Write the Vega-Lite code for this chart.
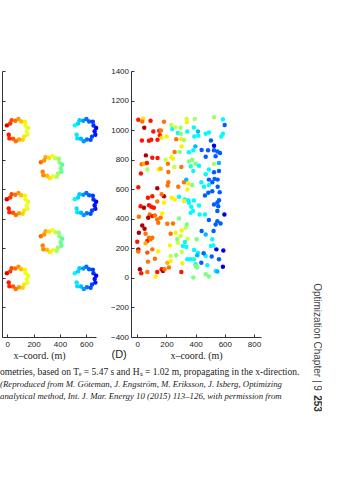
{
"$schema": "https://vega.github.io/schema/vega-lite/v6.json",
"padding": {"left": 0, "top": 67, "right": 0, "bottom": 0},
"background": "white",
"datasets": {
"c": [
{"x":-3,"y":1032,"c":0.90},{"x":22,"y":1044,"c":0.85},{"x":33,"y":1066,"c":0.83},{"x":61,"y":1063,"c":0.78},{"x":85,"y":1075,"c":0.73},{"x":106,"y":1059,"c":0.69},{"x":134,"y":1056,"c":0.64},{"x":139,"y":1031,"c":0.63},{"x":159,"y":1015,"c":0.59},{"x":148,"y":992,"c":0.61},{"x":153,"y":968,"c":0.60},{"x":128,"y":956,"c":0.65},{"x":117,"y":934,"c":0.67},{"x":89,"y":937,"c":0.72},{"x":65,"y":925,"c":0.77},{"x":44,"y":941,"c":0.81},{"x":16,"y":944,"c":0.86},{"x":11,"y":969,"c":0.87},
{"x":-3,"y":532,"c":0.90},{"x":22,"y":544,"c":0.85},{"x":33,"y":566,"c":0.83},{"x":61,"y":563,"c":0.78},{"x":85,"y":575,"c":0.73},{"x":106,"y":559,"c":0.69},{"x":134,"y":556,"c":0.64},{"x":139,"y":531,"c":0.63},{"x":159,"y":515,"c":0.59},{"x":148,"y":492,"c":0.61},{"x":153,"y":468,"c":0.60},{"x":128,"y":456,"c":0.65},{"x":117,"y":434,"c":0.67},{"x":89,"y":437,"c":0.72},{"x":65,"y":425,"c":0.77},{"x":44,"y":441,"c":0.81},{"x":16,"y":444,"c":0.86},{"x":11,"y":469,"c":0.87},
{"x":-3,"y":32,"c":0.90},{"x":22,"y":44,"c":0.85},{"x":33,"y":66,"c":0.83},{"x":61,"y":63,"c":0.78},{"x":85,"y":75,"c":0.73},{"x":106,"y":59,"c":0.69},{"x":134,"y":56,"c":0.64},{"x":139,"y":31,"c":0.63},{"x":159,"y":15,"c":0.59},{"x":148,"y":-8,"c":0.61},{"x":153,"y":-32,"c":0.60},{"x":128,"y":-44,"c":0.65},{"x":117,"y":-66,"c":0.67},{"x":89,"y":-63,"c":0.72},{"x":65,"y":-75,"c":0.77},{"x":44,"y":-59,"c":0.81},{"x":16,"y":-56,"c":0.86},{"x":11,"y":-31,"c":0.87},
{"x":255,"y":782,"c":0.78},{"x":280,"y":794,"c":0.73},{"x":291,"y":816,"c":0.71},{"x":319,"y":813,"c":0.66},{"x":343,"y":825,"c":0.61},{"x":364,"y":809,"c":0.57},{"x":392,"y":806,"c":0.52},{"x":397,"y":781,"c":0.51},{"x":417,"y":765,"c":0.47},{"x":406,"y":742,"c":0.49},{"x":411,"y":718,"c":0.48},{"x":386,"y":706,"c":0.53},{"x":375,"y":684,"c":0.55},{"x":347,"y":687,"c":0.60},{"x":323,"y":675,"c":0.65},{"x":302,"y":691,"c":0.69},{"x":274,"y":694,"c":0.74},{"x":269,"y":719,"c":0.75},
{"x":255,"y":282,"c":0.78},{"x":280,"y":294,"c":0.73},{"x":291,"y":316,"c":0.71},{"x":319,"y":313,"c":0.66},{"x":343,"y":325,"c":0.61},{"x":364,"y":309,"c":0.57},{"x":392,"y":306,"c":0.52},{"x":397,"y":281,"c":0.51},{"x":417,"y":265,"c":0.47},{"x":406,"y":242,"c":0.49},{"x":411,"y":218,"c":0.48},{"x":386,"y":206,"c":0.53},{"x":375,"y":184,"c":0.55},{"x":347,"y":187,"c":0.60},{"x":323,"y":175,"c":0.65},{"x":302,"y":191,"c":0.69},{"x":274,"y":194,"c":0.74},{"x":269,"y":219,"c":0.75},
{"x":513,"y":1032,"c":0.37},{"x":538,"y":1044,"c":0.33},{"x":549,"y":1066,"c":0.32},{"x":577,"y":1063,"c":0.27},{"x":601,"y":1075,"c":0.23},{"x":622,"y":1059,"c":0.20},{"x":650,"y":1056,"c":0.16},{"x":655,"y":1031,"c":0.15},{"x":675,"y":1015,"c":0.12},{"x":664,"y":992,"c":0.13},{"x":669,"y":968,"c":0.13},{"x":644,"y":956,"c":0.17},{"x":633,"y":934,"c":0.18},{"x":605,"y":937,"c":0.23},{"x":581,"y":925,"c":0.27},{"x":560,"y":941,"c":0.30},{"x":532,"y":944,"c":0.34},{"x":527,"y":969,"c":0.35},
{"x":513,"y":532,"c":0.37},{"x":538,"y":544,"c":0.33},{"x":549,"y":566,"c":0.32},{"x":577,"y":563,"c":0.27},{"x":601,"y":575,"c":0.23},{"x":622,"y":559,"c":0.20},{"x":650,"y":556,"c":0.16},{"x":655,"y":531,"c":0.15},{"x":675,"y":515,"c":0.12},{"x":664,"y":492,"c":0.13},{"x":669,"y":468,"c":0.13},{"x":644,"y":456,"c":0.17},{"x":633,"y":434,"c":0.18},{"x":605,"y":437,"c":0.23},{"x":581,"y":425,"c":0.27},{"x":560,"y":441,"c":0.30},{"x":532,"y":444,"c":0.34},{"x":527,"y":469,"c":0.35},
{"x":513,"y":32,"c":0.37},{"x":538,"y":44,"c":0.33},{"x":549,"y":66,"c":0.32},{"x":577,"y":63,"c":0.27},{"x":601,"y":75,"c":0.23},{"x":622,"y":59,"c":0.20},{"x":650,"y":56,"c":0.16},{"x":655,"y":31,"c":0.15},{"x":675,"y":15,"c":0.12},{"x":664,"y":-8,"c":0.13},{"x":669,"y":-32,"c":0.13},{"x":644,"y":-44,"c":0.17},{"x":633,"y":-66,"c":0.18},{"x":605,"y":-63,"c":0.23},{"x":581,"y":-75,"c":0.27},{"x":560,"y":-59,"c":0.30},{"x":532,"y":-56,"c":0.34},{"x":527,"y":-31,"c":0.35}
],
"d": [
{"x":7,"y":1070,"c":0.87},{"x":41,"y":1079,"c":0.64},{"x":34,"y":1058,"c":0.77},{"x":91,"y":1063,"c":0.87},{"x":183,"y":1056,"c":0.77},{"x":48,"y":1016,"c":0.95},{"x":110,"y":991,"c":0.87},{"x":151,"y":996,"c":0.87},{"x":162,"y":998,"c":0.77},{"x":32,"y":930,"c":0.87},
{"x":80,"y":928,"c":0.87},{"x":96,"y":935,"c":0.87},{"x":139,"y":935,"c":0.87},{"x":155,"y":966,"c":0.87},{"x":167,"y":948,"c":0.64},{"x":201,"y":957,"c":0.64},{"x":233,"y":1034,"c":0.57},{"x":240,"y":1007,"c":0.37},{"x":261,"y":1020,"c":0.57},{"x":279,"y":980,"c":0.37},
{"x":297,"y":1016,"c":0.54},{"x":267,"y":939,"c":0.77},{"x":302,"y":939,"c":0.64},{"x":322,"y":933,"c":0.54},{"x":299,"y":976,"c":0.50},{"x":338,"y":1076,"c":0.57},{"x":340,"y":1054,"c":0.64},{"x":395,"y":1076,"c":0.54},{"x":343,"y":991,"c":0.37},{"x":388,"y":1018,"c":0.37},
{"x":391,"y":957,"c":0.37},{"x":418,"y":962,"c":0.37},{"x":416,"y":991,"c":0.30},{"x":469,"y":975,"c":0.37},{"x":491,"y":984,"c":0.37},{"x":526,"y":1087,"c":0.54},{"x":587,"y":1074,"c":0.37},{"x":599,"y":1034,"c":0.20},{"x":587,"y":975,"c":0.37},{"x":576,"y":957,"c":0.37},
{"x":505,"y":930,"c":0.20},{"x":59,"y":829,"c":0.95},{"x":103,"y":813,"c":0.87},{"x":139,"y":811,"c":0.87},{"x":30,"y":769,"c":0.77},{"x":46,"y":773,"c":0.70},{"x":66,"y":778,"c":0.87},{"x":25,"y":706,"c":0.87},{"x":69,"y":733,"c":0.54},{"x":146,"y":733,"c":0.64},
{"x":160,"y":739,"c":0.70},{"x":210,"y":773,"c":0.77},{"x":194,"y":800,"c":0.57},{"x":235,"y":816,"c":0.64},{"x":245,"y":807,"c":0.64},{"x":256,"y":852,"c":0.77},{"x":290,"y":852,"c":0.50},{"x":254,"y":751,"c":0.57},{"x":302,"y":751,"c":0.77},{"x":213,"y":717,"c":0.77},
{"x":304,"y":890,"c":0.64},{"x":354,"y":850,"c":0.37},{"x":384,"y":863,"c":0.37},{"x":398,"y":890,"c":0.30},{"x":441,"y":865,"c":0.20},{"x":485,"y":863,"c":0.20},{"x":526,"y":863,"c":0.20},{"x":526,"y":894,"c":0.10},{"x":549,"y":856,"c":0.20},{"x":567,"y":845,"c":0.20},
{"x":537,"y":823,"c":0.20},{"x":469,"y":820,"c":0.20},{"x":354,"y":787,"c":0.50},{"x":377,"y":800,"c":0.50},{"x":400,"y":773,"c":0.50},{"x":423,"y":759,"c":0.37},{"x":366,"y":755,"c":0.44},{"x":384,"y":724,"c":0.37},{"x":491,"y":733,"c":0.37},{"x":526,"y":771,"c":0.54},
{"x":560,"y":777,"c":0.30},{"x":526,"y":715,"c":0.20},{"x":560,"y":724,"c":0.20},{"x":469,"y":701,"c":0.37},{"x":7,"y":614,"c":0.87},{"x":137,"y":607,"c":0.95},{"x":213,"y":647,"c":0.77},{"x":208,"y":625,"c":0.77},{"x":281,"y":616,"c":0.77},{"x":320,"y":647,"c":0.77},
{"x":336,"y":665,"c":0.30},{"x":350,"y":638,"c":0.64},{"x":377,"y":629,"c":0.50},{"x":343,"y":598,"c":0.64},{"x":491,"y":665,"c":0.20},{"x":530,"y":670,"c":0.20},{"x":551,"y":665,"c":0.20},{"x":514,"y":647,"c":0.20},{"x":551,"y":616,"c":0.20},{"x":491,"y":629,"c":0.37},
{"x":457,"y":616,"c":0.37},{"x":439,"y":647,"c":0.37},{"x":514,"y":587,"c":0.20},{"x":565,"y":580,"c":0.20},{"x":73,"y":542,"c":0.87},{"x":103,"y":553,"c":0.87},{"x":183,"y":553,"c":0.95},{"x":167,"y":566,"c":0.77},{"x":137,"y":517,"c":0.77},{"x":183,"y":508,"c":0.64},
{"x":235,"y":542,"c":0.64},{"x":258,"y":531,"c":0.64},{"x":286,"y":549,"c":0.37},{"x":325,"y":531,"c":0.37},{"x":354,"y":508,"c":0.37},{"x":388,"y":524,"c":0.37},{"x":423,"y":490,"c":0.37},{"x":464,"y":558,"c":0.20},{"x":487,"y":576,"c":0.20},{"x":549,"y":510,"c":0.20},
{"x":560,"y":526,"c":0.20},{"x":23,"y":485,"c":0.87},{"x":46,"y":474,"c":0.95},{"x":80,"y":492,"c":0.87},{"x":96,"y":481,"c":0.87},{"x":114,"y":474,"c":0.87},{"x":85,"y":429,"c":0.77},{"x":103,"y":418,"c":0.87},{"x":75,"y":407,"c":0.95},{"x":121,"y":422,"c":0.77},
{"x":137,"y":395,"c":0.77},{"x":144,"y":373,"c":0.77},{"x":160,"y":407,"c":0.77},{"x":171,"y":436,"c":0.64},{"x":11,"y":413,"c":0.77},{"x":34,"y":355,"c":0.95},{"x":50,"y":333,"c":0.95},{"x":11,"y":306,"c":0.95},{"x":57,"y":299,"c":0.77},{"x":80,"y":272,"c":0.77},
{"x":103,"y":272,"c":0.77},{"x":0,"y":245,"c":0.87},{"x":69,"y":249,"c":0.87},{"x":91,"y":261,"c":0.77},{"x":57,"y":234,"c":0.70},{"x":7,"y":193,"c":0.95},{"x":7,"y":178,"c":0.77},{"x":69,"y":171,"c":0.82},{"x":103,"y":193,"c":0.77},{"x":144,"y":178,"c":0.64},
{"x":73,"y":110,"c":0.77},{"x":121,"y":130,"c":0.77},{"x":18,"y":58,"c":0.95},{"x":27,"y":31,"c":0.87},{"x":69,"y":40,"c":0.77},{"x":137,"y":40,"c":0.87},{"x":167,"y":58,"c":0.87},{"x":176,"y":47,"c":0.95},{"x":187,"y":58,"c":0.77},{"x":126,"y":9,"c":0.64},
{"x":217,"y":70,"c":0.77},{"x":206,"y":103,"c":0.70},{"x":229,"y":115,"c":0.64},{"x":229,"y":148,"c":0.57},{"x":206,"y":366,"c":0.77},{"x":245,"y":368,"c":0.77},{"x":229,"y":299,"c":0.77},{"x":286,"y":402,"c":0.50},{"x":224,"y":220,"c":0.64},{"x":274,"y":261,"c":0.50},
{"x":297,"y":283,"c":0.57},{"x":263,"y":306,"c":0.64},{"x":304,"y":321,"c":0.64},{"x":331,"y":339,"c":0.57},{"x":340,"y":362,"c":0.50},{"x":345,"y":265,"c":0.57},{"x":327,"y":243,"c":0.37},{"x":336,"y":209,"c":0.37},{"x":279,"y":238,"c":0.57},{"x":313,"y":216,"c":0.37},
{"x":267,"y":153,"c":0.50},{"x":304,"y":175,"c":0.57},{"x":366,"y":440,"c":0.37},{"x":382,"y":452,"c":0.37},{"x":370,"y":481,"c":0.37},{"x":427,"y":429,"c":0.37},{"x":464,"y":429,"c":0.37},{"x":320,"y":519,"c":0.64},{"x":350,"y":526,"c":0.37},{"x":441,"y":317,"c":0.20},
{"x":469,"y":294,"c":0.30},{"x":407,"y":261,"c":0.50},{"x":523,"y":317,"c":0.20},{"x":491,"y":391,"c":0.20},{"x":549,"y":384,"c":0.20},{"x":571,"y":368,"c":0.20},{"x":537,"y":362,"c":0.20},{"x":597,"y":429,"c":0.10},{"x":549,"y":452,"c":0.20},{"x":555,"y":485,"c":0.20},
{"x":526,"y":497,"c":0.20},{"x":514,"y":261,"c":0.37},{"x":521,"y":220,"c":0.37},{"x":505,"y":216,"c":0.37},{"x":542,"y":193,"c":0.10},{"x":590,"y":186,"c":0.10},{"x":389,"y":189,"c":0.37},{"x":416,"y":171,"c":0.37},{"x":411,"y":153,"c":0.30},{"x":469,"y":148,"c":0.37},
{"x":510,"y":144,"c":0.20},{"x":455,"y":166,"c":0.20},{"x":560,"y":126,"c":0.20},{"x":389,"y":126,"c":0.44},{"x":343,"y":126,"c":0.37},{"x":366,"y":126,"c":0.37},{"x":439,"y":103,"c":0.20},{"x":480,"y":85,"c":0.37},{"x":400,"y":92,"c":0.37},{"x":400,"y":81,"c":0.50},
{"x":411,"y":70,"c":0.50},{"x":384,"y":2,"c":0.50},{"x":469,"y":25,"c":0.50},{"x":491,"y":9,"c":0.50},{"x":537,"y":47,"c":0.37},{"x":549,"y":43,"c":0.30},{"x":587,"y":76,"c":0.10},{"x":309,"y":99,"c":0.64},{"x":302,"y":40,"c":0.87}
]
},
"config": {
  "view": {"stroke": null},
  "axis": {"grid": false, "domainColor": "#333", "tickColor": "#333", "tickSize": -3, "labelFont": "Liberation Sans", "labelFontSize": 8, "labelColor": "#222", "format": "d", "titleFont": "Liberation Serif", "titleFontSize": 10, "titleFontWeight": "normal", "titleColor": "#222"},
  "circle": {"size": 20, "opacity": 1}
},
"spacing": 35,
"bounds": "flush",
"resolve": {"scale": {"x": "independent", "y": "independent"}},
"hconcat": [
{
  "width": 94, "height": 266,
  "data": {"name": "c"},
  "title": {
    "text": "ometries, based on Tₑ = 5.47 s and Hₛ = 1.02 m, propagating in the x-direction.",
    "subtitle": ["(Reproduced from M. Göteman, J. Engström, M. Eriksson, J. Isberg, Optimizing", "analytical method, Int. J. Mar. Energy 10 (2015) 113–126, with permission from"],
    "orient": "bottom", "anchor": "start", "frame": "group", "dx": -2, "offset": 7,
    "font": "Liberation Serif", "fontSize": 9.5, "fontWeight": "normal", "color": "#222",
    "subtitleFont": "Liberation Serif", "subtitleFontSize": 8.8, "subtitleFontStyle": "italic", "subtitleColor": "#222", "subtitlePadding": 3, "subtitleLineHeight": 12.5
  },
  "mark": {"type": "circle"},
  "encoding": {
    "x": {"field": "x", "type": "quantitative", "scale": {"domain": [-40, 674], "nice": false, "zero": false},
          "axis": {"values": [0, 200, 400, 600], "title": "x–coord. (m)", "labelPadding": 6, "titlePadding": 2, "titleX": 37}},
    "y": {"field": "y", "type": "quantitative", "scale": {"domain": [-400, 1400], "nice": false},
          "axis": {"values": [-400, -200, 0, 200, 400, 600, 800, 1000, 1200, 1400], "labels": false, "title": null}},
    "color": {"field": "c", "type": "quantitative", "legend": null,
      "scale": {"domain": [0, 0.125, 0.25, 0.375, 0.5, 0.625, 0.75, 0.875, 1], "range": ["#00007f", "#0000ff", "#007fff", "#00ffff", "#7fff7f", "#ffff00", "#ff7f00", "#ff0000", "#7f0000"]}}
  }
},
{
  "width": 130, "height": 266,
  "data": {"name": "d"},
  "title": {"text": "Optimization  Chapter  |  9", "orient": "right", "anchor": "middle", "frame": "group", "dx": 133, "offset": -14, "baseline": "middle",
    "font": "Liberation Sans", "fontSize": 10, "fontWeight": "normal", "color": "#444"},
  "resolve": {"axis": {"y": "independent"}},
  "layer": [
    {
      "mark": {"type": "circle"},
      "encoding": {
        "x": {"field": "x", "type": "quantitative", "scale": {"domain": [-43, 848], "nice": false, "zero": false},
              "axis": {"values": [0, 200, 400, 600, 800], "title": "x–coord. (m)", "labelPadding": 6, "titlePadding": 2}},
        "y": {"field": "y", "type": "quantitative", "scale": {"domain": [-400, 1400], "nice": false},
              "axis": {"values": [-400, -200, 0, 200, 400, 600, 800, 1000, 1200, 1400], "labelPadding": 5.5,
                       "title": "(D)", "titleAngle": 0, "titleX": -20, "titleY": 283, "titleAlign": "left", "titleBaseline": "middle",
                       "titleFont": "Liberation Sans", "titleFontSize": 11}},
        "color": {"field": "c", "type": "quantitative", "legend": null,
          "scale": {"domain": [0, 0.125, 0.25, 0.375, 0.5, 0.625, 0.75, 0.875, 1], "range": ["#00007f", "#0000ff", "#007fff", "#00ffff", "#7fff7f", "#ffff00", "#ff7f00", "#ff0000", "#7f0000"]}}
      }
    },
    {
      "mark": {"type": "circle", "opacity": 0},
      "encoding": {
        "y": {"field": "y", "type": "quantitative",
              "axis": {"orient": "right", "domain": false, "ticks": false, "labels": false,
                       "title": "253", "titleAngle": 90, "titleX": 55, "titleY": 332, "titleAlign": "center", "titleBaseline": "middle",
                       "titleFont": "Liberation Sans", "titleFontSize": 10, "titleFontWeight": "bold", "titleColor": "#333"}}
      }
    }
  ]
}
]
}
